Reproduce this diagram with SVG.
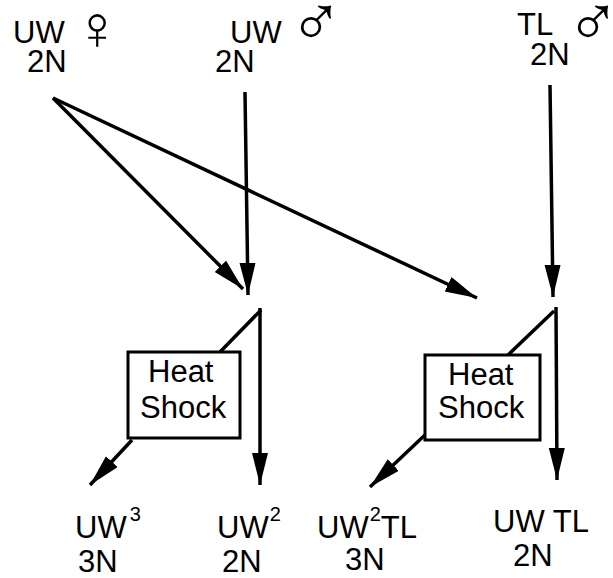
<svg xmlns="http://www.w3.org/2000/svg" width="613" height="578" viewBox="0 0 613 578">
<style>
text{font-family:"Liberation Sans",Arial,sans-serif;font-size:31px;fill:#000}
.sym{font-family:"DejaVu Sans ExtraLight","DejaVu Sans",sans-serif;font-weight:200}
.f{font-size:62px}
.m{font-size:72px}
.sup{font-size:20px}
.box{fill:#fff;stroke:#000;stroke-width:3}
.ln{stroke:#000;stroke-width:3.5;fill:none}
.arr{marker-end:url(#ah)}
</style>
<defs>
<marker id="ah" markerUnits="userSpaceOnUse" markerWidth="34" markerHeight="18" refX="32" refY="8" orient="auto" viewBox="0 0 34 18">
<path d="M0,0 L32,8 L0,16 Z" fill="#000"/>
</marker>
</defs>
<g id="connectors">
<line class="ln arr" x1="53" y1="98" x2="243" y2="289"/>
<line class="ln arr" x1="53" y1="98" x2="477" y2="298"/>
<line class="ln arr" x1="245" y1="92" x2="248" y2="295"/>
<line class="ln arr" x1="550" y1="85" x2="553" y2="297"/>
<line class="ln" x1="261" y1="310" x2="220" y2="352"/>
<line class="ln arr" x1="260" y1="308" x2="260" y2="485"/>
<line class="ln arr" x1="132" y1="440" x2="90" y2="485"/>
<line class="ln" x1="554" y1="311" x2="508" y2="355"/>
<line class="ln arr" x1="556" y1="307" x2="557" y2="480"/>
<line class="ln arr" x1="426" y1="434" x2="370" y2="487"/>
</g>
<g id="uw-female">
<text x="13" y="43">UW</text>
<text class="sym f" x="74" y="49">♀</text>
<text x="27" y="72">2N</text>
</g>
<g id="uw-male">
<text x="230" y="43">UW</text>
<text class="sym m" x="289" y="46">♂</text>
<text x="215" y="72">2N</text>
</g>
<g id="tl-male">
<text x="517" y="35">TL</text>
<text class="sym m" x="566" y="46">♂</text>
<text x="530" y="65">2N</text>
</g>
<g id="heat-shock-1">
<rect class="box" x="128" y="352" width="112" height="86"/>
<text x="148" y="382">Heat</text>
<text x="140" y="418">Shock</text>
</g>
<g id="heat-shock-2">
<rect class="box" x="425" y="355" width="115" height="85"/>
<text x="448" y="385">Heat</text>
<text x="438" y="418">Shock</text>
</g>
<g id="uw3">
<text x="75" y="538">UW<tspan class="sup" dx="3" dy="-17">3</tspan></text>
<text x="78" y="572">3N</text>
</g>
<g id="uw2">
<text x="217" y="538">UW<tspan class="sup" dx="1" dy="-17">2</tspan></text>
<text x="222" y="572">2N</text>
</g>
<g id="uw2tl">
<text x="317" y="538">UW<tspan class="sup" dx="1" dy="-17">2</tspan><tspan dy="17">TL</tspan></text>
<text x="345" y="570">3N</text>
</g>
<g id="uwtl">
<text x="493" y="532">UW TL</text>
<text x="513" y="566">2N</text>
</g>
</svg>
